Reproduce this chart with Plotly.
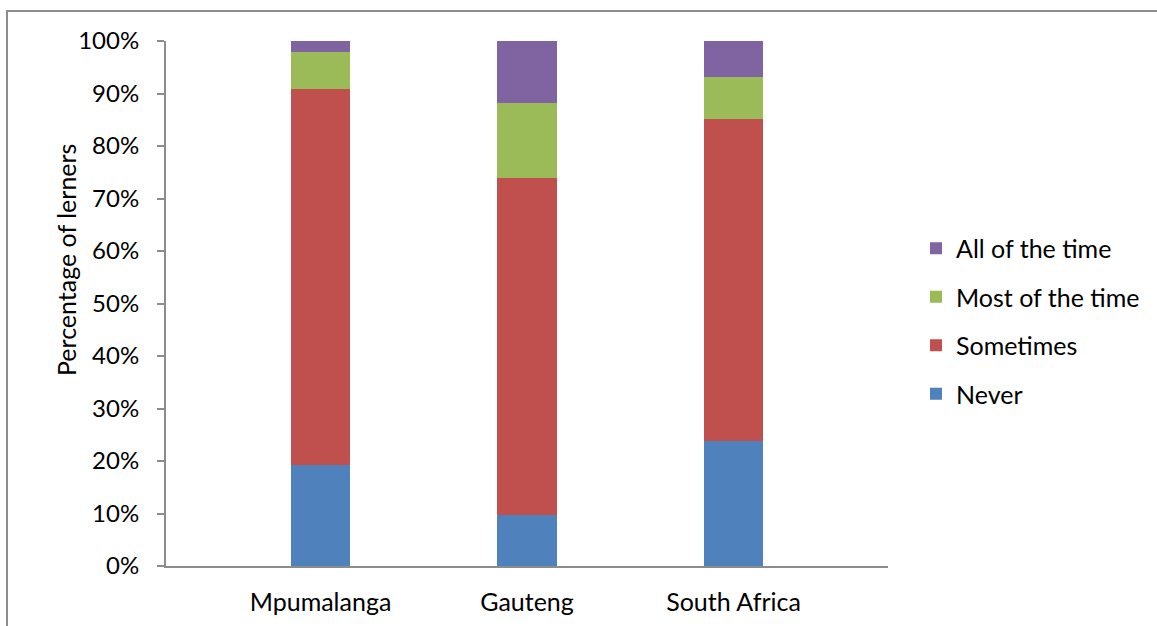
import plotly.graph_objects as go

# Survey responses by region (percentage of learners)
regions = ["Mpumalanga", "Gauteng", "South Africa"]
never = [19.2, 9.8, 23.9]
sometimes = [71.7, 64.1, 61.2]
most_of_the_time = [7.1, 14.2, 8.0]
all_of_the_time = [2.0, 11.9, 6.9]

series = [
    ("Never", never, "#4F81BD"),
    ("Sometimes", sometimes, "#C0504D"),
    ("Most of the time", most_of_the_time, "#9BBB59"),
    ("All of the time", all_of_the_time, "#8064A2"),
]

y_ticks = list(range(0, 101, 10))
y_tick_labels = [f"{v}%" for v in y_ticks]

FONT = "Lato, 'Open Sans', sans-serif"
FS = 24
FS_TEXT = 25
AXIS_GREY = "#8C8C8C"

fig = go.Figure()
for i, (name, values, color) in enumerate(series):
    fig.add_trace(go.Bar(
        name=name,
        x=regions,
        y=values,
        marker=dict(color=color, line=dict(width=0)),
        width=0.286,
        legendgroup=name,
        legendrank=len(series) - i,
    ))

W, H = 1157, 626
L, R, T, B = 166, 269, 41, 60
pw, ph = W - L - R, H - T - B

def px_x(p):
    return (p - L) / pw

def px_y(p):
    return (H - B - p) / ph

fig.update_layout(
    width=W,
    height=H,
    barmode="stack",
    plot_bgcolor="white",
    paper_bgcolor="white",
    margin=dict(l=L, r=R, t=T, b=B, autoexpand=False),
    font=dict(family=FONT, size=FS_TEXT, color="#000000"),
    showlegend=True,
    legend=dict(
        traceorder="grouped",
        tracegroupgap=13,
        x=px_x(916),
        xanchor="left",
        y=px_y(321),
        yanchor="middle",
        font=dict(family=FONT, size=FS_TEXT, color="#000000"),
        bgcolor="rgba(0,0,0,0)",
    ),
    xaxis=dict(
        type="category",
        range=[-0.748, 2.748],
        showgrid=False,
        showline=True,
        linecolor=AXIS_GREY,
        linewidth=2,
        ticks="",
        ticklabelstandoff=13,
        tickfont=dict(family=FONT, size=FS_TEXT, color="#000000"),
        automargin=False,
        fixedrange=True,
    ),
    yaxis=dict(
        range=[0, 100],
        tickvals=y_ticks,
        ticktext=y_tick_labels,
        showgrid=False,
        zeroline=False,
        showline=True,
        linecolor=AXIS_GREY,
        linewidth=2,
        ticks="outside",
        ticklen=7,
        tickcolor=AXIS_GREY,
        tickwidth=1.5,
        ticklabelstandoff=13,
        tickfont=dict(family=FONT, size=FS, color="#000000"),
        automargin=False,
        fixedrange=True,
    ),
    annotations=[
        dict(
            text="Percentage of lerners",
            xref="paper", yref="paper",
            x=px_x(66), y=px_y(260),
            xanchor="center", yanchor="middle",
            textangle=-90,
            showarrow=False,
            font=dict(family=FONT, size=FS_TEXT, color="#000000"),
        )
    ],
    shapes=[
        dict(
            type="rect",
            xref="paper", yref="paper",
            x0=px_x(7), x1=px_x(W + 20),
            y0=px_y(H + 20), y1=px_y(11),
            line=dict(color=AXIS_GREY, width=2),
            fillcolor="rgba(0,0,0,0)",
            layer="below",
        )
    ],
)

fig.write_html("out.html")
